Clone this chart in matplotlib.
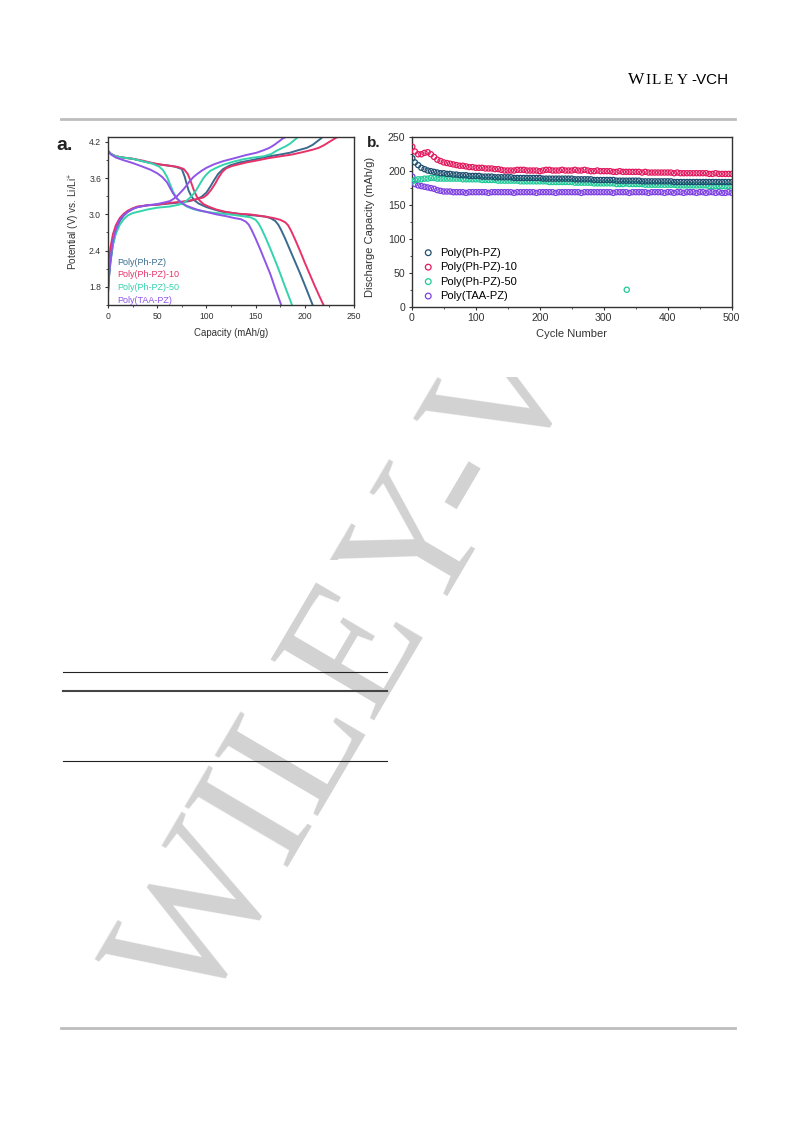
import numpy as np
import matplotlib
matplotlib.use('Agg')
import matplotlib.pyplot as plt
from matplotlib.lines import Line2D
from matplotlib.patches import Rectangle
from matplotlib.ticker import MultipleLocator

plt.rcParams['font.family'] = ['Liberation Sans', 'DejaVu Sans']
plt.rcParams['mathtext.default'] = 'regular'

# ---- panel a: charge / discharge profiles (capacity mAh/g, potential V) ----
names = ['Poly(Ph-PZ)', 'Poly(Ph-PZ)-10', 'Poly(Ph-PZ)-50', 'Poly(TAA-PZ)']

dis_cap_ph = [0, 3, 8, 15, 25, 35, 43, 50, 60, 68, 75, 78, 80, 82, 85, 88, 92, 96, 100, 110,
              117, 128, 137, 150, 161, 166, 170, 173, 176, 180, 185, 190, 195, 200, 208]
dis_v_ph = [4.05, 4.0, 3.96, 3.94, 3.92, 3.88, 3.85, 3.83, 3.81, 3.79, 3.75, 3.62, 3.5, 3.39,
            3.29, 3.23, 3.18, 3.15, 3.12, 3.07, 3.04, 3.02, 3.0, 2.98, 2.96, 2.93, 2.89, 2.83,
            2.74, 2.6, 2.41, 2.22, 2.03, 1.83, 1.5]
chg_cap_ph = [0, 1, 2.5, 5, 8, 12, 16, 20, 25, 30, 40, 50, 63, 75, 83, 90, 95, 100, 104, 108,
              112, 117, 124, 134, 144, 155, 164, 175, 185, 193, 202, 208, 212, 216, 218]
chg_v_ph = [1.7, 1.95, 2.2, 2.5, 2.72, 2.89, 2.98, 3.04, 3.09, 3.12, 3.15, 3.16, 3.18, 3.2,
            3.22, 3.25, 3.29, 3.36, 3.46, 3.57, 3.67, 3.75, 3.81, 3.86, 3.89, 3.93, 3.96, 3.99,
            4.02, 4.06, 4.1, 4.15, 4.2, 4.25, 4.28]

dis_cap_10 = [0, 3, 8, 15, 25, 35, 45, 55, 65, 72, 77, 81, 84, 87, 90, 93, 97, 102, 110, 120,
              132, 144, 157, 168, 175, 180, 183, 186, 190, 195, 200, 205, 210, 215, 219]
dis_v_10 = [4.05, 4.0, 3.96, 3.94, 3.92, 3.89, 3.85, 3.82, 3.8, 3.78, 3.75, 3.67, 3.55, 3.41,
            3.3, 3.23, 3.17, 3.13, 3.08, 3.04, 3.01, 3.0, 2.97, 2.94, 2.91, 2.87, 2.82, 2.73,
            2.59, 2.4, 2.2, 2.01, 1.82, 1.64, 1.5]
chg_cap_10 = [0, 1, 2.5, 5, 8, 12, 16, 20, 25, 30, 40, 50, 63, 75, 83, 90, 97, 101, 105, 109,
              112, 116, 120, 126, 131, 141, 151, 163, 175, 187, 198, 208, 214, 219, 224, 229,
              232, 234]
chg_v_10 = [2.05, 2.25, 2.45, 2.67, 2.82, 2.94, 3.01, 3.06, 3.1, 3.13, 3.15, 3.16, 3.19, 3.21,
            3.23, 3.25, 3.28, 3.33, 3.41, 3.51, 3.6, 3.7, 3.76, 3.8, 3.82, 3.86, 3.89, 3.93,
            3.96, 3.99, 4.03, 4.07, 4.1, 4.14, 4.19, 4.24, 4.27, 4.28]

dis_cap_50 = [0, 3, 8, 15, 25, 35, 45, 52, 56, 60, 63, 66, 69, 72, 76, 80, 86, 93, 105, 117,
              128, 137, 145, 150, 153, 156, 160, 165, 170, 175, 180, 187]
dis_v_50 = [4.05, 4.0, 3.96, 3.94, 3.92, 3.88, 3.84, 3.79, 3.73, 3.62, 3.5, 3.38, 3.29, 3.23,
            3.17, 3.13, 3.09, 3.06, 3.03, 3.01, 2.99, 2.97, 2.95, 2.91, 2.85, 2.76, 2.62, 2.43,
            2.23, 2.02, 1.8, 1.5]
chg_cap_50 = [0, 1, 2.5, 5, 8, 12, 16, 20, 25, 30, 40, 50, 63, 72, 77, 83, 87, 90, 94, 97,
              100, 104, 110, 117, 127, 137, 148, 158, 166, 171, 176, 181, 185, 188, 191, 193]
chg_v_50 = [1.75, 2.0, 2.25, 2.5, 2.68, 2.83, 2.92, 2.98, 3.02, 3.04, 3.08, 3.11, 3.13, 3.16,
            3.19, 3.27, 3.34, 3.41, 3.52, 3.6, 3.66, 3.72, 3.77, 3.82, 3.87, 3.91, 3.94, 3.96,
            4.0, 4.05, 4.09, 4.13, 4.17, 4.21, 4.25, 4.28]

dis_cap_taa = [0, 3, 8, 15, 25, 35, 43, 50, 55, 60, 63, 66, 70, 75, 80, 90, 100, 110, 120,
               128, 135, 140, 143, 146, 150, 155, 160, 165, 170, 176]
dis_v_taa = [4.05, 3.99, 3.94, 3.9, 3.85, 3.79, 3.74, 3.68, 3.62, 3.53, 3.44, 3.35, 3.26, 3.19,
             3.14, 3.08, 3.04, 3.0, 2.97, 2.94, 2.92, 2.88, 2.83, 2.74, 2.6, 2.41, 2.21, 2.01,
             1.77, 1.5]
chg_cap_taa = [0, 1, 2.5, 5, 8, 12, 16, 20, 25, 30, 40, 50, 58, 63, 67, 70, 73, 77, 80, 83,
               87, 90, 95, 100, 108, 117, 124, 131, 140, 151, 158, 164, 169, 174, 178, 181]
chg_v_taa = [1.7, 1.98, 2.25, 2.56, 2.75, 2.91, 2.99, 3.04, 3.09, 3.12, 3.15, 3.17, 3.2, 3.22,
             3.26, 3.3, 3.35, 3.42, 3.48, 3.55, 3.62, 3.66, 3.72, 3.77, 3.83, 3.88, 3.91, 3.94,
             3.98, 4.02, 4.06, 4.1, 4.15, 4.21, 4.26, 4.28]

# ---- panel b: discharge capacity vs cycle number ----
cycles = [1] + list(range(5, 501, 5))

cyc_ph = [219, 213, 209, 205, 203, 201, 200, 199, 198, 197, 197, 196, 196, 195, 195, 194, 194,
          194, 193, 193, 193,
          193, 192, 192, 192, 192, 191, 191, 191, 191, 191, 191, 190, 190, 190, 190, 190, 190,
          190, 190, 190,
          189, 189, 189, 189, 189, 189, 189, 189, 189, 189, 188, 188, 188, 188, 188, 188, 187,
          187, 187, 187,
          187, 187, 187, 186, 186, 186, 186, 186, 186, 186, 186, 185, 185, 185, 185, 185, 185,
          185, 185, 185,
          185, 184, 184, 184, 184, 184, 184, 184, 184, 184, 184, 184, 184, 184, 184, 184, 184,
          184, 184, 184]
cyc_10 = [236, 229, 225, 225, 227, 228, 225, 221, 217, 215, 213, 212, 211, 210, 209, 208, 208,
          207, 206, 206, 205,
          205, 205, 204, 204, 204, 203, 203, 202, 201, 201, 201, 201, 202, 202, 202, 201, 201,
          201, 201, 200,
          201, 202, 202, 201, 201, 201, 202, 201, 201, 201, 202, 201, 201, 202, 201, 200, 200,
          201, 200, 200,
          200, 200, 199, 199, 200, 199, 199, 199, 199, 199, 199, 198, 199, 198, 198, 198, 198,
          198, 198, 198,
          198, 197, 198, 197, 197, 197, 197, 197, 197, 197, 197, 197, 196, 196, 197, 196, 196,
          196, 196, 196]
cyc_50 = [185, 187, 188, 188, 189, 189, 190, 190, 189, 189, 189, 189, 189, 189, 189, 189, 188,
          188, 188, 188, 188,
          188, 187, 187, 187, 187, 187, 186, 186, 186, 186, 186, 186, 186, 185, 185, 185, 185,
          185, 185, 185,
          185, 185, 184, 184, 184, 184, 184, 184, 184, 184, 183, 183, 183, 183, 183, 183, 182,
          182, 182, 182,
          182, 182, 182, 181, 181, 181, 182, 181, 181, 181, 181, 181, 180, 180, 180, 180, 180,
          180, 180, 180,
          180, 180, 179, 179, 179, 179, 179, 179, 179, 179, 179, 179, 178, 178, 178, 178, 178,
          178, 178, 178]
cyc_taa = [192, 181, 179, 178, 177, 176, 175, 174, 172, 171, 170, 170, 170, 169, 169, 169, 169,
           168, 169, 169, 169,
           169, 169, 169, 168, 169, 169, 169, 169, 169, 169, 169, 168, 169, 169, 169, 169, 169,
           169, 168, 169,
           169, 169, 169, 169, 168, 169, 169, 169, 169, 169, 169, 169, 168, 169, 169, 169, 169,
           169, 169, 169,
           169, 169, 168, 169, 169, 169, 169, 168, 169, 169, 169, 169, 169, 168, 169, 169, 169,
           169, 168, 169,
           169, 168, 169, 169, 168, 169, 169, 169, 168, 169, 169, 168, 169, 169, 168, 169, 168,
           168, 169, 168]
outlier_cycle = [336]
outlier_50 = [25]

colors_a = ['#3a6b8f', '#e8326a', '#35d3ad', '#8f55e8']
colors_b = ['#1e4f70', '#e2195e', '#22c998', '#7d40e2']

W, H = 793, 1121


def fx(x):
    return x / W


def fy(y):
    return 1 - y / H


fig = plt.figure(figsize=(W / 100, H / 100), dpi=100)

# watermark, partly hidden behind the figure image as on the page
fig.text(fx(198), fy(1019), 'WILEY-VCH', rotation=59.5, rotation_mode='anchor',
         ha='left', va='baseline', fontsize=131, family='Liberation Serif',
         color='#d2d2d2', zorder=-3)
fig.add_artist(Rectangle((0, fy(377)), 1, 1 - fy(377), transform=fig.transFigure,
                         facecolor='white', edgecolor='none', zorder=-2))
fig.add_artist(Rectangle((fx(285), fy(580)), fx(338) - fx(285), fy(560) - fy(580),
                         transform=fig.transFigure, facecolor='white',
                         edgecolor='none', zorder=-2))

# page header and rules
fig.text(fx(628), fy(84.5), 'W', family='Liberation Serif', fontsize=12.5, va='baseline')
for ch, xp in zip('ILEY', [645, 652, 664, 676.5]):
    fig.text(fx(xp), fy(84.5), ch, family='Liberation Serif', fontsize=11, va='baseline')
fig.text(fx(691), fy(84.5), '-VCH', family='Liberation Sans', fontsize=11, va='baseline')
fig.add_artist(Line2D([fx(61), fx(735)], [fy(118.5)] * 2, color='#bdbdbd', lw=2.0))
fig.add_artist(Line2D([fx(61), fx(735)], [fy(1028)] * 2, color='#bdbdbd', lw=2.0))
fig.add_artist(Line2D([fx(62.5), fx(386.5)], [fy(672.3)] * 2, color='#222222', lw=0.8))
fig.add_artist(Line2D([fx(62.5), fx(386.5)], [fy(690.7)] * 2, color='#444444', lw=1.5))
fig.add_artist(Line2D([fx(62.5), fx(386.5)], [fy(761)] * 2, color='#222222', lw=0.8))

# ---------------- panel a ----------------
ax = fig.add_axes([fx(108), fy(305), (354 - 108) / W, (305 - 137) / H])
dis = [(dis_cap_ph, dis_v_ph), (dis_cap_10, dis_v_10), (dis_cap_50, dis_v_50),
       (dis_cap_taa, dis_v_taa)]
chg = [(chg_cap_ph, chg_v_ph), (chg_cap_10, chg_v_10), (chg_cap_50, chg_v_50),
       (chg_cap_taa, chg_v_taa)]
for i in range(4):
    ax.plot(dis[i][0], dis[i][1], color=colors_a[i], lw=1.4, label=names[i],
            solid_joinstyle='round')
    ax.plot(chg[i][0], chg[i][1], color=colors_a[i], lw=1.4, solid_joinstyle='round')
ax.set_xlim(0, 250)
ax.set_ylim(1.5, 4.28)
ax.xaxis.set_major_locator(MultipleLocator(50))
ax.xaxis.set_minor_locator(MultipleLocator(25))
ax.set_yticks([1.8, 2.4, 3.0, 3.6, 4.2])
ax.yaxis.set_minor_locator(MultipleLocator(0.3))
ax.tick_params(which='major', labelsize=6.2, length=2.5, width=0.8, pad=2.5, colors='#333333')
ax.tick_params(which='minor', length=1.5, width=0.6, colors='#333333')
for s in ax.spines.values():
    s.set_linewidth(1.0)
    s.set_color('#333333')
ax.set_xlabel('Capacity (mAh/g)', fontsize=6.9, color='#333333', labelpad=5)
ax.set_ylabel('Potential (V) vs. Li/Li$^{+}$', fontsize=7.2, color='#333333', labelpad=5)
leg = ax.legend(loc='lower left', bbox_to_anchor=(0.02, -0.027), frameon=False,
                fontsize=6.5, handlelength=0, handletextpad=0, labelspacing=0.42,
                borderpad=0, labelcolor='linecolor')
for h in leg.legend_handles:
    h.set_visible(False)
fig.text(fx(56), fy(150), 'a.', fontsize=14, fontweight='bold', color='#222222',
         va='baseline')

# ---------------- panel b ----------------
bx = fig.add_axes([fx(411.7), fy(306.7), 320 / W, 169.4 / H])
series_b = [cyc_ph, cyc_10, cyc_50, cyc_taa]
for i in range(4):
    bx.scatter(cycles, series_b[i], s=14, facecolors='none', edgecolors=colors_b[i],
               linewidths=0.9, label=names[i], zorder=3 - 0.1 * i)
bx.scatter(outlier_cycle, outlier_50, s=14, facecolors='none', edgecolors=colors_b[2],
           linewidths=0.9)
bx.set_xlim(0, 500)
bx.set_ylim(0, 250)
bx.xaxis.set_major_locator(MultipleLocator(100))
bx.xaxis.set_minor_locator(MultipleLocator(50))
bx.yaxis.set_major_locator(MultipleLocator(50))
bx.yaxis.set_minor_locator(MultipleLocator(25))
bx.tick_params(which='major', labelsize=7.6, length=2.5, width=0.8, pad=2, colors='#333333')
bx.tick_params(which='minor', length=1.5, width=0.6, colors='#333333')
for s in bx.spines.values():
    s.set_linewidth(1.0)
    s.set_color('#333333')
bx.set_xlabel('Cycle Number', fontsize=8, color='#333333', labelpad=4)
bx.set_ylabel('Discharge Capacity (mAh/g)', fontsize=8, color='#333333', labelpad=2)
bx.yaxis.set_label_coords(-0.115, 0.47)
bx.legend(loc='lower left', bbox_to_anchor=(0.01, -0.012), frameon=False, fontsize=8,
          handlelength=1.0, handletextpad=0.6, labelspacing=0.4, borderpad=0.2,
          markerscale=1.1)
fig.text(fx(367), fy(147), 'b.', fontsize=11, fontweight='bold', color='#222222',
         va='baseline')

fig.savefig('out.png', dpi=100)
